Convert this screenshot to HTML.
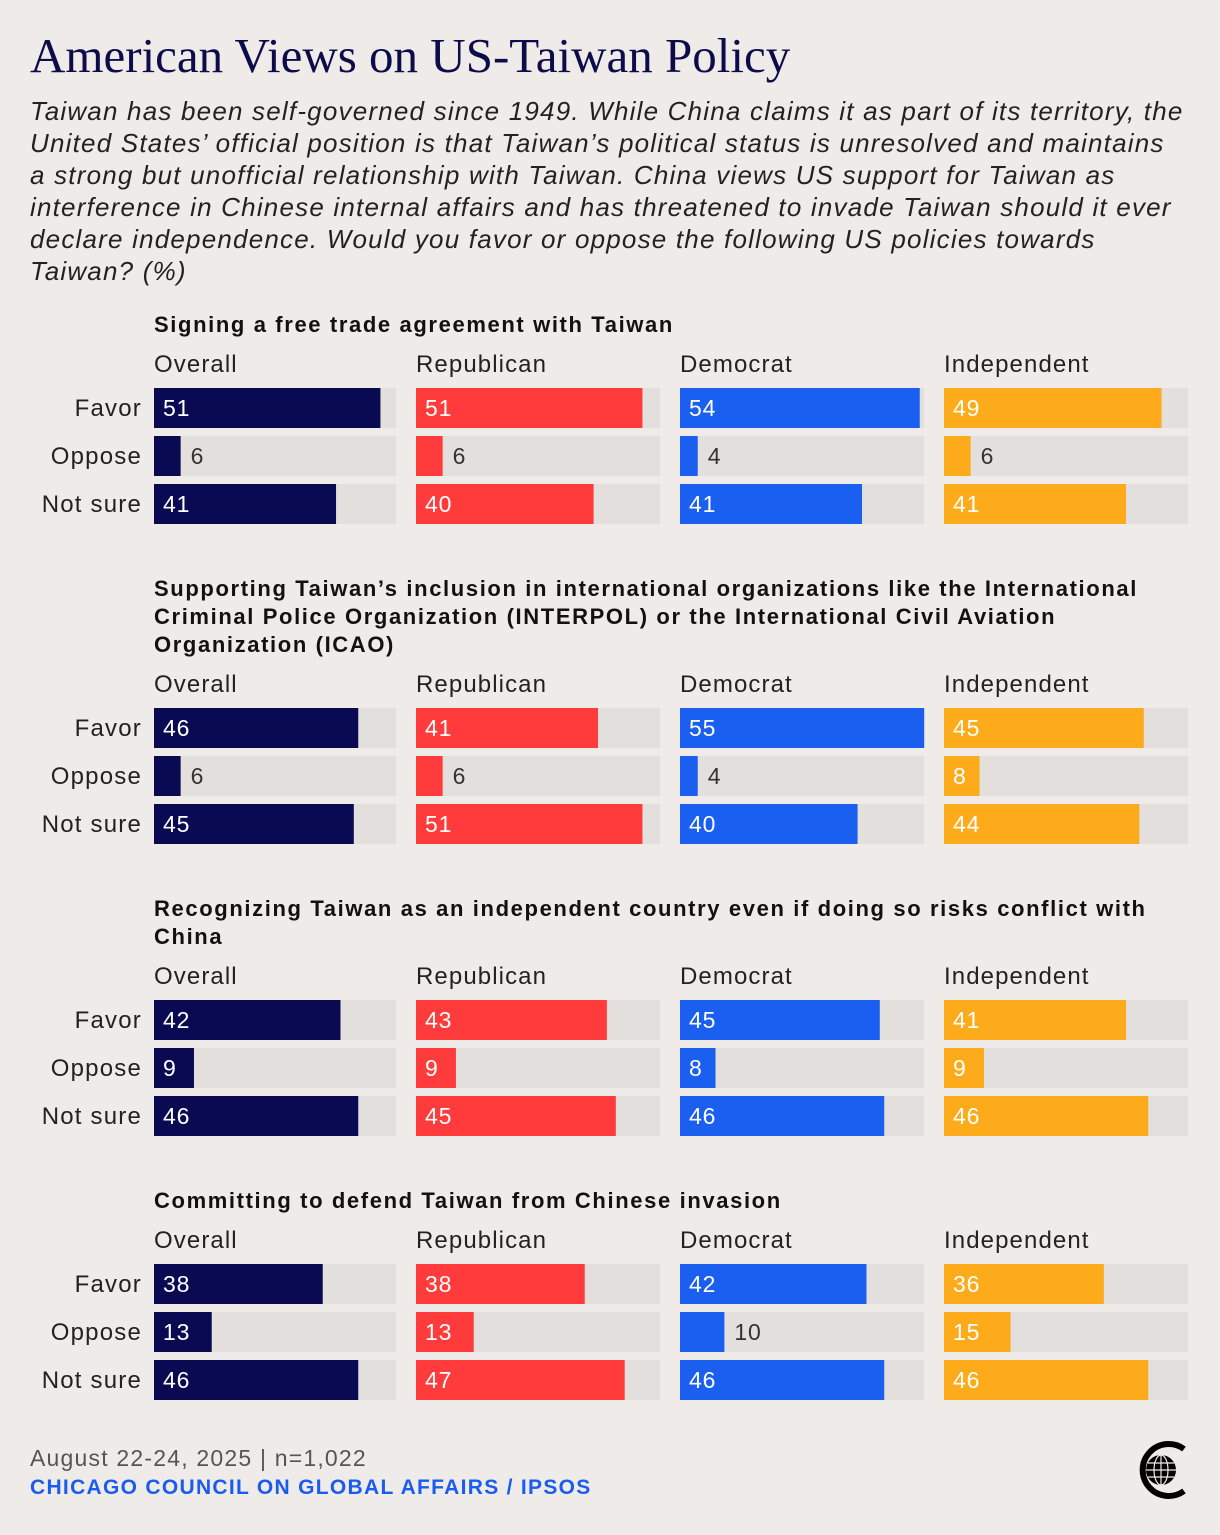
<!DOCTYPE html>
<html><head><meta charset="utf-8">
<style>
body{margin:0;background:#efebe8;width:1220px;height:1530px;overflow:hidden;font-family:"Liberation Sans",sans-serif;}
svg text{font-family:"Liberation Sans",sans-serif;}
</style></head>
<body>
<svg id="chart" width="1220" height="1530" viewBox="0 0 1220 1530">
<text x="30" y="72" font-size="49" fill="#0c0c4a" style="font-family:'Liberation Serif',serif">American Views on US-Taiwan Policy</text>
<g font-style="italic" font-size="26" letter-spacing="1.2" fill="#222">
<text x="30" y="120">Taiwan has been self-governed since 1949. While China claims it as part of its territory, the</text>
<text x="30" y="152">United States’ official position is that Taiwan’s political status is unresolved and maintains</text>
<text x="30" y="184">a strong but unofficial relationship with Taiwan. China views US support for Taiwan as</text>
<text x="30" y="216">interference in Chinese internal affairs and has threatened to invade Taiwan should it ever</text>
<text x="30" y="248">declare independence. Would you favor or oppose the following US policies towards</text>
<text x="30" y="280">Taiwan? (%)</text>
</g>
<g id="panels"></g>
<text x="30" y="1466" font-size="23" letter-spacing="1.2" fill="#555">August 22-24, 2025 | n=1,022</text>
<text x="30" y="1494" font-size="21" letter-spacing="1.3" font-weight="bold" fill="#1a5cf0">CHICAGO COUNCIL ON GLOBAL AFFAIRS / IPSOS</text>
<g>
<path d="M1184 1449 A26 26 0 1 0 1184 1491" fill="none" stroke="#000" stroke-width="6"/>
<circle cx="1161" cy="1470" r="15" fill="#000"/>
<g fill="none" stroke="#efebe8" stroke-width="1.2"><ellipse cx="1161" cy="1470" rx="7" ry="15"/><line x1="1146" y1="1470" x2="1176" y2="1470"/><line x1="1161" y1="1455" x2="1161" y2="1485"/><line x1="1148" y1="1463" x2="1174" y2="1463"/><line x1="1148" y1="1477" x2="1174" y2="1477"/></g>
</g>
</svg>
<script>
const groups=["Overall","Republican","Democrat","Independent"];
const rowsLabels=["Favor","Oppose","Not sure"];
const titles=[["Signing a free trade agreement with Taiwan"],
["Supporting Taiwan’s inclusion in international organizations like the International","Criminal Police Organization (INTERPOL) or the International Civil Aviation","Organization (ICAO)"],
["Recognizing Taiwan as an independent country even if doing so risks conflict with","China"],
["Committing to defend Taiwan from Chinese invasion"]];
const q1=[[51,6,41],[51,6,40],[54,4,41],[49,6,41]];
const q2=[[46,6,45],[41,6,51],[55,4,40],[45,8,44]];
const q3=[[42,9,46],[43,9,45],[45,8,46],[41,9,46]];
const q4=[[38,13,46],[38,13,47],[42,10,46],[36,15,46]];
const data=[q1,q2,q3,q4];
const colors=["#0a0a52","#ff3b3b","#1a5ff0","#fdab1a"];
const NS="http://www.w3.org/2000/svg";
const root=document.getElementById('panels');
const colX=[154,416,680,944], trackWs=[242,244,244,244], scale=v=>v*4.44;
const tops=[312,576,896,1188];
function el(t,a,p){const e=document.createElementNS(NS,t);for(const k in a)e.setAttribute(k,a[k]);p.appendChild(e);return e;}
data.forEach((q,pi)=>{
  const g=el('g',{},root);
  
  
  let y=tops[pi];
  titles[pi].forEach((line,li)=>{
    const t=el('text',{x:154,y:y+20+li*28,'font-size':22,'font-weight':'bold','letter-spacing':1.62,fill:'#111'},g);
    t.textContent=line;
    
    
  });
  const hy=y+titles[pi].length*28+32;
  const by=hy+16;
  rowsLabels.forEach((r,ri)=>{
    const t=el('text',{x:142,y:by+ri*48+28,'font-size':24,'letter-spacing':1.2,fill:'#222','text-anchor':'end'},g);
    t.textContent=r;
    
    
  });
  groups.forEach((gn,gi)=>{
    const x=colX[gi];
    const h=el('text',{x:x,y:hy,'font-size':24,'letter-spacing':1.1,fill:'#222'},g);
    h.textContent=gn;
    
    
    q[gi].forEach((v,ri)=>{
      const yy=by+ri*48;
      const tr=el('rect',{x:x,y:yy,width:trackWs[gi],height:40,fill:'#e3dfdc'},g);
      
      
      const w=scale(v);
      const b=el('rect',{x:x,y:yy,width:w,height:40,fill:colors[gi]},g);
      
      
      const inside=v>=8&&!(v===10);
      const t=el('text',{x:inside?x+9:x+w+10,y:yy+28,'font-size':23,'letter-spacing':0.8,fill:inside?'#fff':'#333'},g);
      t.textContent=v;
      
      
    });
  });
});
</script>
</body></html>
